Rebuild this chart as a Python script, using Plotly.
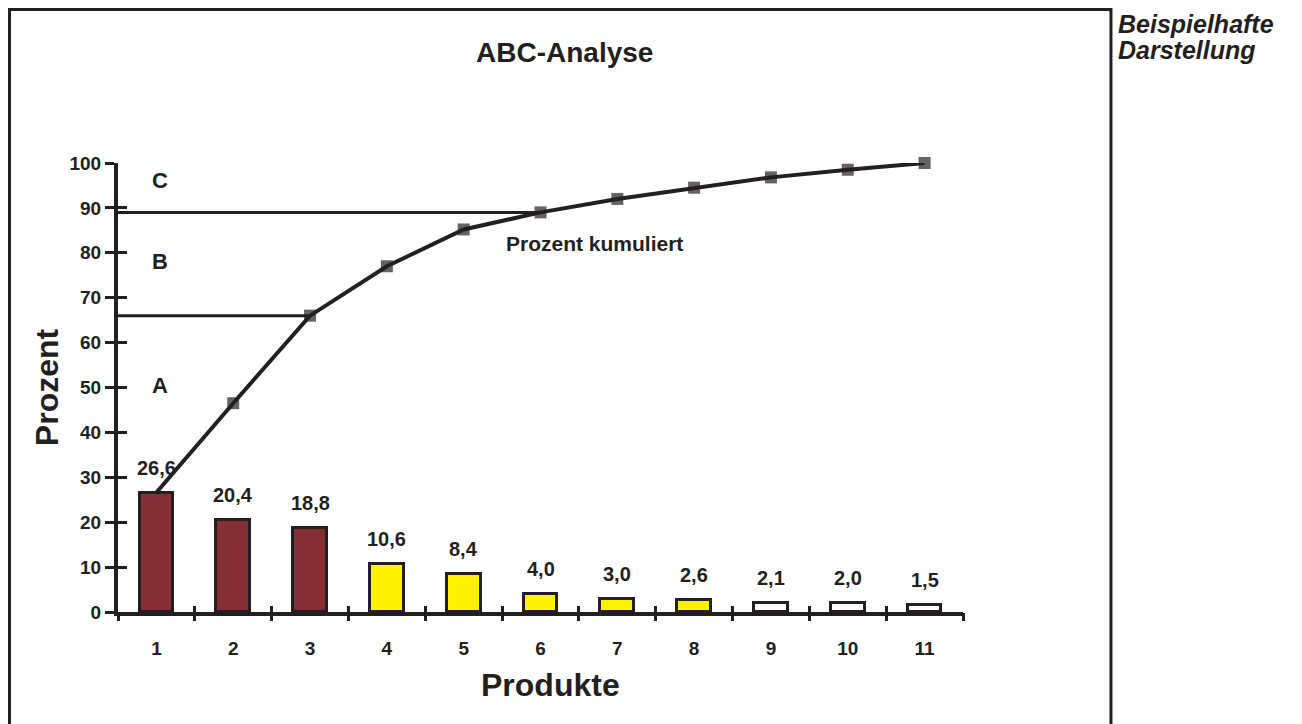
import plotly.graph_objects as go

# ABC-Analyse: Anteil je Produkt und kumulierter Anteil (Prozent)
produkte = [1, 2, 3, 4, 5, 6, 7, 8, 9, 10, 11]
anteil = [26.6, 20.4, 18.8, 10.6, 8.4, 4.0, 3.0, 2.6, 2.1, 2.0, 1.5]
anteil_text = ['26,6', '20,4', '18,8', '10,6', '8,4', '4,0', '3,0', '2,6', '2,1', '2,0', '1,5']
kumuliert = [26.6, 46.5, 66.0, 77.0, 85.2, 89.0, 92.0, 94.5, 96.8, 98.5, 100.0]
klasse = ['A', 'A', 'A', 'B', 'B', 'B', 'B', 'B', 'C', 'C', 'C']
grenze_ab = 66.0
grenze_bc = 89.0
y_ticks = [0, 10, 20, 30, 40, 50, 60, 70, 80, 90, 100]

farben = {'A': '#862E36', 'B': '#FFF200', 'C': '#FFFFFF'}
FONT = 'Liberation Sans, Arial, sans-serif'
SCHWARZ = '#231F20'

grenzen = [p - 0.5 for p in produkte] + [produkte[-1] + 0.5]
x_range = [grenzen[0], grenzen[-1]]

fig = go.Figure()

# Klassengrenzen
fig.add_trace(go.Scatter(x=[x_range[0], produkte[2]], y=[grenze_ab, grenze_ab], mode='lines',
                         line=dict(color=SCHWARZ, width=3), hoverinfo='skip', showlegend=False))
fig.add_trace(go.Scatter(x=[x_range[0], produkte[5]], y=[grenze_bc, grenze_bc], mode='lines',
                         line=dict(color=SCHWARZ, width=3), hoverinfo='skip', showlegend=False))

fig.add_trace(go.Bar(x=produkte, y=anteil, width=0.44,
                     marker=dict(color=[farben[k] for k in klasse],
                                 line=dict(color=SCHWARZ, width=3)),
                     showlegend=False))

fig.add_trace(go.Scatter(x=produkte, y=kumuliert, mode='lines+markers',
                         line=dict(color=SCHWARZ, width=4),
                         marker=dict(symbol='square', color=SCHWARZ, line=dict(width=0),
                                     size=[0] + [12] * (len(produkte) - 1)),
                         cliponaxis=False, showlegend=False))

# Hilfsachsen fuer durchgehende Striche
fig.add_trace(go.Scatter(x=[None], y=[None], xaxis='x2', yaxis='y2', showlegend=False, hoverinfo='skip'))
fig.add_trace(go.Scatter(x=[None], y=[None], xaxis='x3', yaxis='y2', showlegend=False, hoverinfo='skip'))

for p, v, t in zip(produkte, anteil, anteil_text):
    fig.add_annotation(x=p, y=v, text=t, showarrow=False, yshift=25,
                       font=dict(family=FONT, size=20, color=SCHWARZ, weight='bold'))

for buchstabe, yy in [('C', 96), ('B', 78), ('A', 50.5)]:
    fig.add_annotation(x=1.05, y=yy, text=buchstabe, showarrow=False,
                       font=dict(family=FONT, size=22, color=SCHWARZ, weight='bold'))

fig.add_annotation(x=6.7, y=82, text='Prozent kumuliert', showarrow=False,
                   font=dict(family=FONT, size=21, color=SCHWARZ, weight='bold'))

fig.add_annotation(xref='paper', yref='paper', x=0.528, y=1.247, xanchor='center', yanchor='middle',
                   text='ABC-Analyse', showarrow=False,
                   font=dict(family=FONT, size=28, color=SCHWARZ, weight='bold'))
fig.add_annotation(xref='paper', yref='paper', x=0.5124, y=-0.1626, xanchor='center', yanchor='middle',
                   text='Produkte', showarrow=False,
                   font=dict(family=FONT, size=32, color=SCHWARZ, weight='bold'))
fig.add_annotation(xref='paper', yref='paper', x=1.181, y=1.3452, xanchor='left', yanchor='top',
                   text='Beispielhafte', showarrow=False,
                   font=dict(family=FONT, size=25, color=SCHWARZ, weight='bold', style='italic'))
fig.add_annotation(xref='paper', yref='paper', x=1.181, y=1.2517, xanchor='left', yanchor='middle',
                   text='Darstellung', showarrow=False,
                   font=dict(family=FONT, size=25, color=SCHWARZ, weight='bold', style='italic'))

# Rahmen
fig.add_shape(type='rect', xref='paper', yref='paper', x0=-0.1284, x1=1.1751, y0=-0.4, y1=1.342,
              line=dict(color=SCHWARZ, width=3), layer='below')

tick_font = dict(family=FONT, size=19, color=SCHWARZ, weight='bold')

fig.update_layout(
    width=1294, height=716,
    margin=dict(l=110, r=339, t=155, b=112),
    paper_bgcolor='white', plot_bgcolor='white',
    bargap=0,
    xaxis=dict(range=x_range, tickvals=produkte, ticktext=[str(p) for p in produkte],
               ticks='', ticklabelstandoff=16, tickfont=tick_font,
               showline=True, linecolor=SCHWARZ, linewidth=4, showgrid=False, zeroline=False),
    xaxis2=dict(range=x_range, overlaying='x', anchor='y2', side='bottom', tickvals=grenzen,
                ticks='outside', ticklen=8, tickwidth=3, tickcolor=SCHWARZ,
                showticklabels=False, showline=False, showgrid=False, zeroline=False),
    xaxis3=dict(range=x_range, overlaying='x', anchor='y2', side='bottom', tickvals=grenzen,
                ticks='inside', ticklen=6, tickwidth=3, tickcolor=SCHWARZ,
                showticklabels=False, showline=False, showgrid=False, zeroline=False),
    yaxis=dict(range=[0, 100], tickvals=y_ticks, ticks='outside', ticklen=9, tickwidth=3,
               tickcolor=SCHWARZ, tickfont=tick_font, ticklabelstandoff=0,
               title=dict(text='Prozent', standoff=2,
                          font=dict(family=FONT, size=32, color=SCHWARZ, weight='bold')),
               showline=True, linecolor=SCHWARZ, linewidth=4, showgrid=False, zeroline=False),
    yaxis2=dict(range=[0, 100], overlaying='y', anchor='x2', side='left', tickvals=y_ticks,
                ticks='inside', ticklen=9, tickwidth=3, tickcolor=SCHWARZ,
                showticklabels=False, showline=False, showgrid=False, zeroline=False),
)

fig.write_html('out.html')
